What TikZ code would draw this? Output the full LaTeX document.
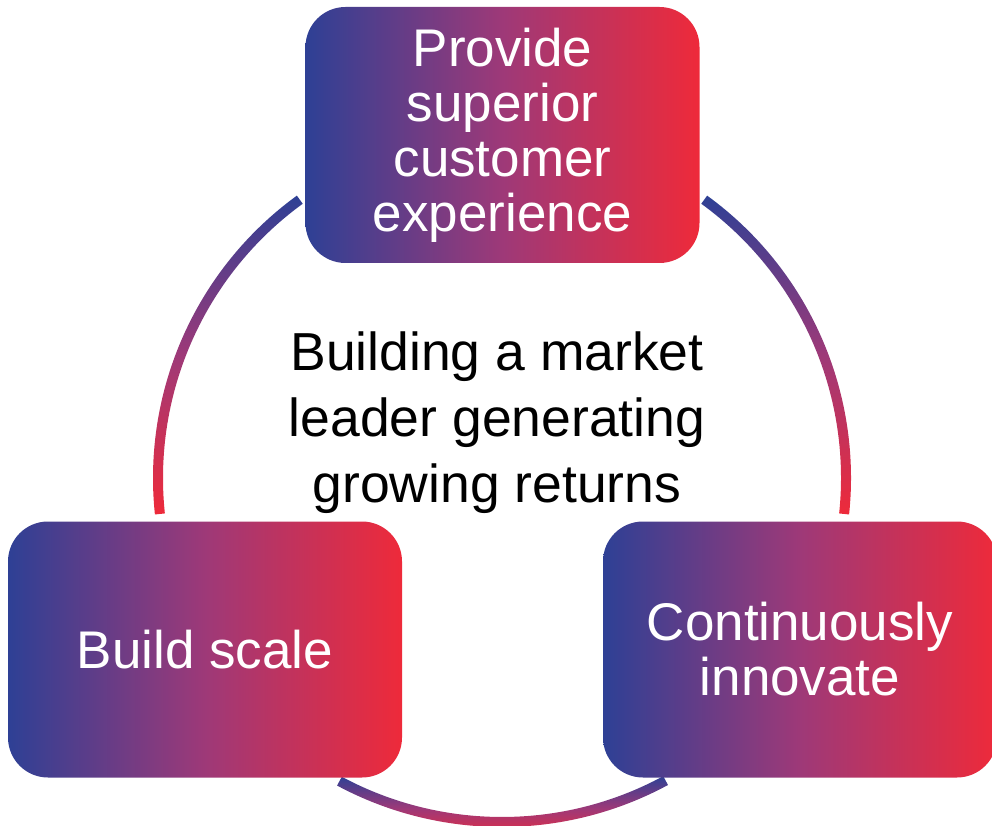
\documentclass[tikz,border=0pt]{standalone}
\usepackage{fontspec}
\setmainfont{Liberation Sans}
\definecolor{cblue}{HTML}{2E4095}
\definecolor{cmid}{HTML}{9E3978}
\definecolor{cred}{HTML}{EE2A3A}
\tikzset{
  gbox/.style={rectangle, rounded corners=40pt, inner sep=0pt,
    minimum width=394pt, minimum height=256pt,
    left color=cblue, right color=cred, middle color=cmid,
    text=white, align=center,
    font=\fontsize{53}{55}\selectfont},
  garc/.style={top color=cblue, bottom color=cred, middle color=cmid},
  ctext/.style={align=center, text=black, inner sep=0pt,
    font=\fontsize{53.5}{66}\selectfont}
}
\begin{document}
\begin{tikzpicture}[x=1pt,y=1pt]
\useasboundingbox (0,0) rectangle (992,825);
\begin{scope}
\clip (0,0) rectangle (992,825);
% arcs (shaded annular sectors)
\begin{scope}[shift={(502,347)}]
  \path[garc] (126:349pt) arc[start angle=126, end angle=186, radius=349pt]
    -- (186:339pt) arc[start angle=186, end angle=126, radius=339pt] -- cycle;
  \path[garc] (54:349pt) arc[start angle=54, end angle=-6, radius=349pt]
    -- (-6:339pt) arc[start angle=-6, end angle=54, radius=339pt] -- cycle;
  \path[garc] (241.8:349pt) arc[start angle=241.8, end angle=298.4, radius=349pt]
    -- (298.4:339pt) arc[start angle=298.4, end angle=241.8, radius=339pt] -- cycle;
\end{scope}
% boxes
\node[gbox] (top) at (502.5,690) {Provide\\superior\\customer\\experience};
\node[gbox] (left) at (205,175.5) {Build scale};
\node[gbox] (right) at (800,175.5) {Continuously\\innovate};
% centre text
\node[ctext] (centre) at (497,402) {Building a market\\leader generating\\growing returns};
\end{scope}
\end{tikzpicture}
\end{document}
